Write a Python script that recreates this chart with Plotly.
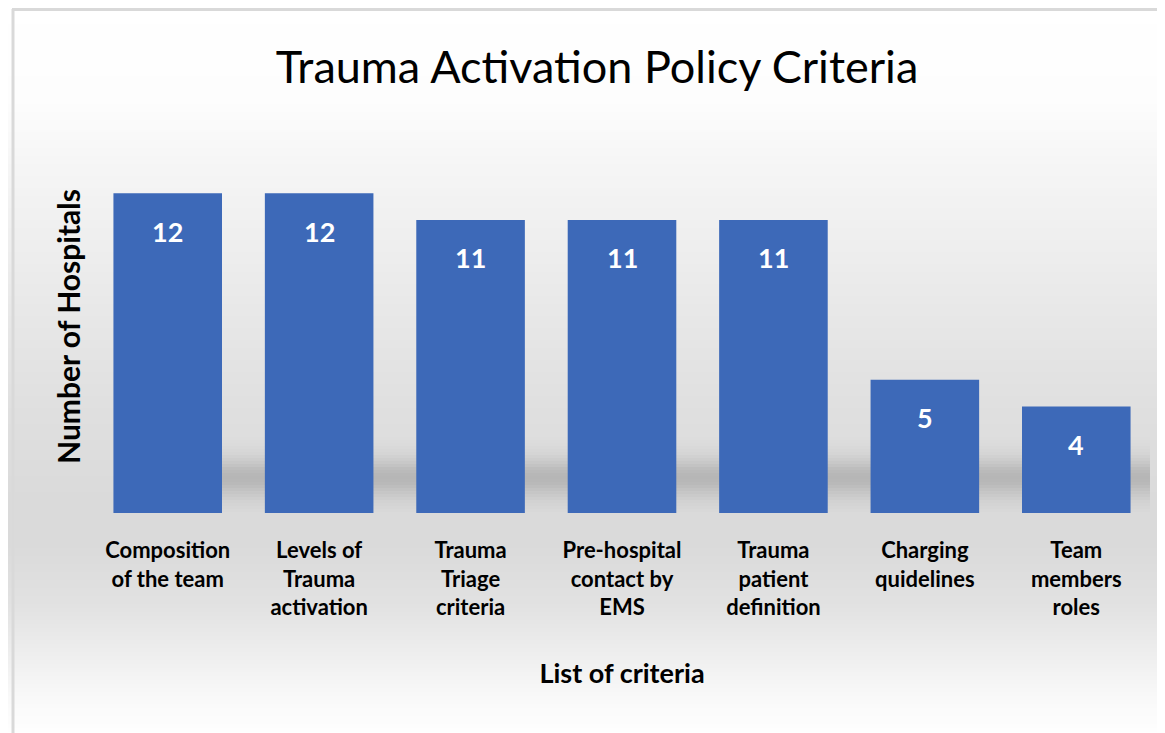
import math
import plotly.graph_objects as go

categories = [
    "Composition<br>of the team",
    "Levels of<br>Trauma<br>activation",
    "Trauma<br>Triage<br>criteria",
    "Pre-hospital<br>contact by<br>EMS",
    "Trauma<br>patient<br>definition",
    "Charging<br>quidelines",
    "Team<br>members<br>roles",
]
hospitals = [12, 12, 11, 11, 11, 5, 4]

OFF = 8  # page body margin
W, H = 1165 - OFF, 733 - OFF
L, R, T, B = 92 - OFF, 13, 140 - OFF, 220
PW, PH = W - L - R, H - T - B
FONT = "Lato"


def px_x(p):
    return (p - OFF - L) / PW


def px_y(p):
    return (H - B - (p - OFF)) / PH


# background gradient (white -> grey -> white), in screen pixel rows
stops = [(0, 255), (100, 253), (170, 245), (300, 233), (400, 224), (500, 218),
         (545, 218), (600, 225), (650, 237), (700, 249), (733, 254)]


def grey_at(y):
    for (y0, g0), (y1, g1) in zip(stops, stops[1:]):
        if y0 <= y <= y1:
            return g0 + (g1 - g0) * (y - y0) / (y1 - y0)
    return 255


shapes = []
step = 4
for y in range(OFF, 733, step):
    g = int(round(grey_at(y + step / 2)))
    shapes.append(dict(type="rect", xref="paper", yref="paper",
                       x0=px_x(OFF), x1=px_x(1165), y0=px_y(y), y1=px_y(y + step + 0.5),
                       fillcolor=f"rgb({g},{g},{g})", line=dict(width=0), layer="below"))

# soft shadow band behind the bars
for y in range(425, 512, 3):
    a = 0.17 * math.exp(-((y - 476) / 19.0) ** 2)
    shapes.append(dict(type="rect", xref="paper", yref="paper",
                       x0=px_x(222), x1=px_x(1150), y0=px_y(y), y1=px_y(y + 3),
                       fillcolor=f"rgba(0,0,0,{a:.3f})", line=dict(width=0), layer="below"))

# chart border (left and top edges visible)
shapes.append(dict(type="line", xref="paper", yref="paper", x0=px_x(13), x1=px_x(13),
                   y0=px_y(9), y1=px_y(733), line=dict(color="#d9d9d9", width=3)))
shapes.append(dict(type="line", xref="paper", yref="paper", x0=px_x(12), x1=px_x(1165),
                   y0=px_y(9.5), y1=px_y(9.5), line=dict(color="#d9d9d9", width=3)))

fig = go.Figure()
fig.add_trace(go.Bar(
    x=categories, y=hospitals,
    marker=dict(color="#3d69b8", line=dict(width=0)),
    hoverinfo="x+y",
))

annotations = []
for c, v in zip(categories, hospitals):
    annotations.append(dict(x=c, y=v, xref="x", yref="y", text=str(v), showarrow=False,
                            yshift=-38, yanchor="middle",
                            font=dict(family=FONT, size=27, color="white", weight="bold")))

fig.update_layout(
    width=W, height=H,
    margin=dict(l=L, r=R, t=T, b=B, autoexpand=False),
    paper_bgcolor="white",
    plot_bgcolor="rgba(0,0,0,0)",
    bargap=0.283,
    showlegend=False,
    shapes=shapes,
    annotations=annotations,
    title=dict(text="Trauma Activation Policy Criteria", xref="container", yref="container",
               x=(597 - OFF) / W, y=1 - (67 - OFF) / H, xanchor="center", yanchor="middle",
               font=dict(family=FONT, size=45, color="black")),
    xaxis=dict(showgrid=False, showline=False, zeroline=False, ticks="",
               ticklabelstandoff=22,
               tickfont=dict(family=FONT, size=22, color="black", weight="bold"),
               title=dict(text="List of criteria", standoff=44,
                          font=dict(family=FONT, size=27, color="black", weight="bold")),
               automargin=False),
    yaxis=dict(range=[0, 14], showgrid=False, showline=False, zeroline=False,
               showticklabels=False, ticks="",
               title=dict(text="Number of Hospitals", standoff=1,
                          font=dict(family=FONT, size=30, color="black", weight="bold")),
               automargin=False),
)

fig.write_html("out.html")
